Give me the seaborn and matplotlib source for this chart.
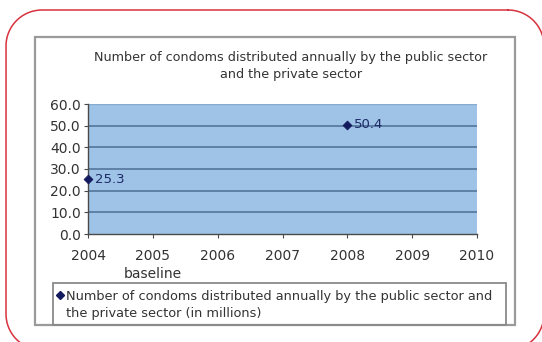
import matplotlib
matplotlib.use("Agg")
import matplotlib.pyplot as plt
from matplotlib.patches import Rectangle
import numpy as np
import seaborn as sns
import pandas as pd

# Data
years = [2004, 2008]
condoms_millions = [25.3, 50.4]
x_ticks = [2004, 2005, 2006, 2007, 2008, 2009, 2010]
x_tick_labels = ["2004", "2005\nbaseline", "2006", "2007", "2008", "2009", "2010"]
y_ticks = [0, 10, 20, 30, 40, 50, 60]
title = "Number of condoms distributed annually by the public sector\nand the private sector"
series_label = ("Number of condoms distributed annually by the public sector and\n"
                "the private sector (in millions)")

sns.set_style("white")
plt.rcParams["font.family"] = ["DejaVu Sans"]

W, H = 542, 342
fig = plt.figure(figsize=(W / 100, H / 100), dpi=100)
fig.patch.set_facecolor("white")

# Pixel-space overlay for the outer decorations
bg = fig.add_axes([0, 0, 1, 1], zorder=0)
bg.set_xlim(0, W)
bg.set_ylim(H, 0)
bg.set_autoscale_on(False)
bg.axis("off")


def rounded_outline(x0, y0, x1, y1, r, n=40):
    """Closed outline of a rounded rectangle in pixel units."""
    pts = []
    corners = [(x1 - r, y0 + r, -90, 0), (x1 - r, y1 - r, 0, 90),
               (x0 + r, y1 - r, 90, 180), (x0 + r, y0 + r, 180, 270)]
    for cx, cy, a0, a1 in corners:
        t = np.radians(np.linspace(a0, a1, n))
        pts.append(np.column_stack([cx + r * np.cos(t), cy + r * np.sin(t)]))
    pts = np.vstack(pts + [pts[0][:1]])
    return pts[:, 0], pts[:, 1]


ox, oy = rounded_outline(6, 10, 544, 350, 36)
bg.plot(ox, oy, color="#d8323e", lw=1.1, solid_capstyle="round")

bg.add_patch(Rectangle((35, 37), 480, 288, fc="white", ec="#9a9a9a", lw=1.6))
bg.add_patch(Rectangle((53, 283), 453, 42, fc="none", ec="#8a8a8a", lw=1.3))
bg.text(291, 66, title, ha="center", va="center", fontsize=9.2,
        color="#333333", linespacing=1.45)

# Plot area
ax = fig.add_axes([88 / W, 1 - 234 / H, 389 / W, 130 / H], zorder=2)
ax.set_facecolor("#9fc3e7")

df = pd.DataFrame({"year": years, "value": condoms_millions})
sns.scatterplot(data=df, x="year", y="value", ax=ax, marker="D", s=22,
                color="#141a5e", edgecolor="#141a5e",
                clip_on=False, zorder=5, legend=False)

for xv, yv in zip(years, condoms_millions):
    ax.annotate(f"{yv:.1f}", (xv, yv), xytext=(5, 0), textcoords="offset points",
                ha="left", va="center", fontsize=9.5, color="#1e2a66")

ax.set_xlim(2004, 2010)
ax.set_ylim(0, 60)
ax.set_xticks(x_ticks)
ax.set_xticklabels(x_tick_labels, linespacing=1.3)
ax.set_yticks(y_ticks)
ax.set_yticklabels([f"{v:.1f}" for v in y_ticks])
ax.set_xlabel("")
ax.set_ylabel("")

for yv in y_ticks[1:-1]:
    ax.axhline(yv, color="#5a7ca3", lw=1.3, zorder=1)
ax.axhline(60, color="#86aad0", lw=1.0, zorder=1)

for side in ("top", "right"):
    ax.spines[side].set_visible(False)
for side in ("left", "bottom"):
    ax.spines[side].set_visible(True)
    ax.spines[side].set_color("#4a4a4a")
    ax.spines[side].set_linewidth(1.0)

ax.tick_params(axis="both", which="both", direction="out", length=3, width=0.8,
               color="#4a4a4a", labelsize=10, labelcolor="#333333", pad=2,
               left=True, bottom=True)
ax.tick_params(axis="x", pad=8)

# Legend row
bg.plot([60], [295], marker="D", ms=4, color="#141a5e", ls="none")
bg.text(66, 305, series_label, ha="left", va="center", fontsize=9.3,
        color="#333333", linespacing=1.38)

fig.savefig("out.png", dpi=100, facecolor="white")
